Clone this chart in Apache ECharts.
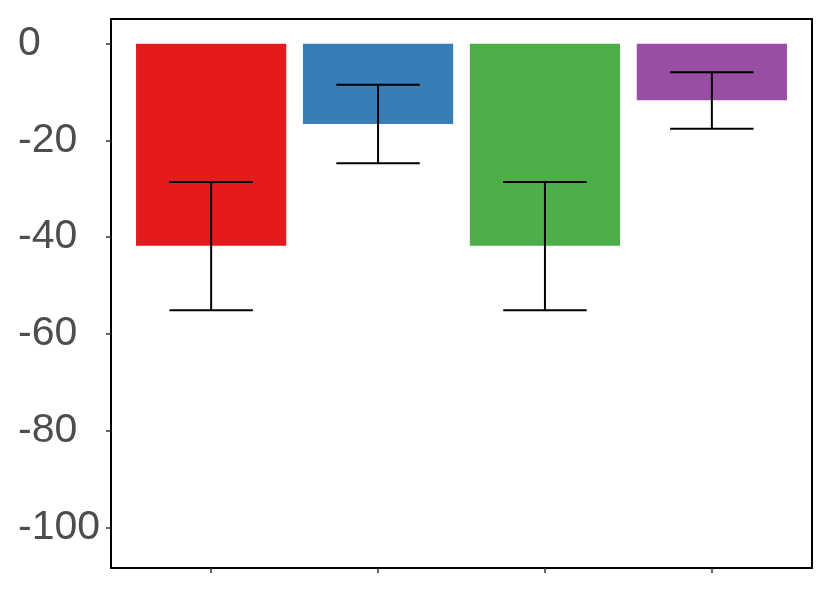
<!DOCTYPE html>
<html>
<head>
<meta charset="utf-8">
<script src="https://cdn.jsdelivr.net/npm/echarts@6/dist/echarts.min.js"></script>
<style>
  html, body { margin: 0; padding: 0; background: #fff; }
  #chart { width: 830px; height: 593px; }
</style>
</head>
<body>
<div id="chart"></div>
<script>
// groups along x (positions 1..4)
const groups = [1, 2, 3, 4]
const means = [-41.8, -16.6, -41.8, -11.7]
const upper = [-28.6, -8.5, -28.6, -5.9]
const lower = [-55.1, -24.7, -55.1, -17.6]
const colors = ['#E41A1C', '#377EB8', '#4DAF4A', '#984EA3']
const yTicks = [0, -20, -40, -60, -80, -100]

const chart = echarts.init(document.getElementById('chart'))

const barData = groups.map((g, i) => [g, means[i]])
const errData = groups.map((g, i) => [g, upper[i], lower[i]])

const option = {
  animation: false,
  grid: {
    left: 111, right: 18, top: 19, bottom: 25,
    show: true, borderColor: '#000', borderWidth: 2, backgroundColor: 'transparent'
  },
  xAxis: {
    type: 'value',
    min: 0.4,
    max: 4.6,
    axisLine: { show: false, onZero: false },
    splitLine: { show: false },
    axisLabel: { show: false },
    axisTick: {
      show: true,
      length: 5,
      customValues: groups,
      lineStyle: { color: '#333', width: 1.5 }
    }
  },
  yAxis: {
    type: 'value',
    min: -108.4,
    max: 5.1,
    axisLine: { show: false, onZero: false },
    splitLine: { show: false },
    axisTick: {
      show: true,
      length: 5,
      customValues: yTicks,
      lineStyle: { color: '#333', width: 1.5 }
    },
    axisLabel: {
      customValues: yTicks,
      margin: 93,
      align: 'left',
      fontSize: 41,
      fontFamily: 'Liberation Sans, Arial, sans-serif',
      color: '#4d4d4d'
    }
  },
  series: [
    {
      type: 'custom',
      data: barData,
      renderItem: function (params, api) {
        const x = api.value(0)
        const top = api.coord([x, 0])
        const bot = api.coord([x, api.value(1)])
        const w = api.size([0.9, 0])[0]
        return {
          type: 'rect',
          shape: { x: top[0] - w / 2, y: top[1], width: w, height: bot[1] - top[1] },
          style: { fill: colors[params.dataIndex] }
        }
      }
    },
    {
      type: 'custom',
      data: errData,
      z: 3,
      renderItem: function (params, api) {
        const x = api.value(0)
        const hi = api.coord([x, api.value(1)])
        const lo = api.coord([x, api.value(2)])
        const cw = api.size([0.5, 0])[0] / 2
        const st = { stroke: '#000', lineWidth: 2 }
        return {
          type: 'group',
          children: [
            { type: 'line', shape: { x1: hi[0], y1: hi[1], x2: lo[0], y2: lo[1] }, style: st },
            { type: 'line', shape: { x1: hi[0] - cw, y1: hi[1], x2: hi[0] + cw, y2: hi[1] }, style: st },
            { type: 'line', shape: { x1: lo[0] - cw, y1: lo[1], x2: lo[0] + cw, y2: lo[1] }, style: st }
          ]
        }
      }
    }
  ]
}

chart.setOption(option)
</script>
</body>
</html>
